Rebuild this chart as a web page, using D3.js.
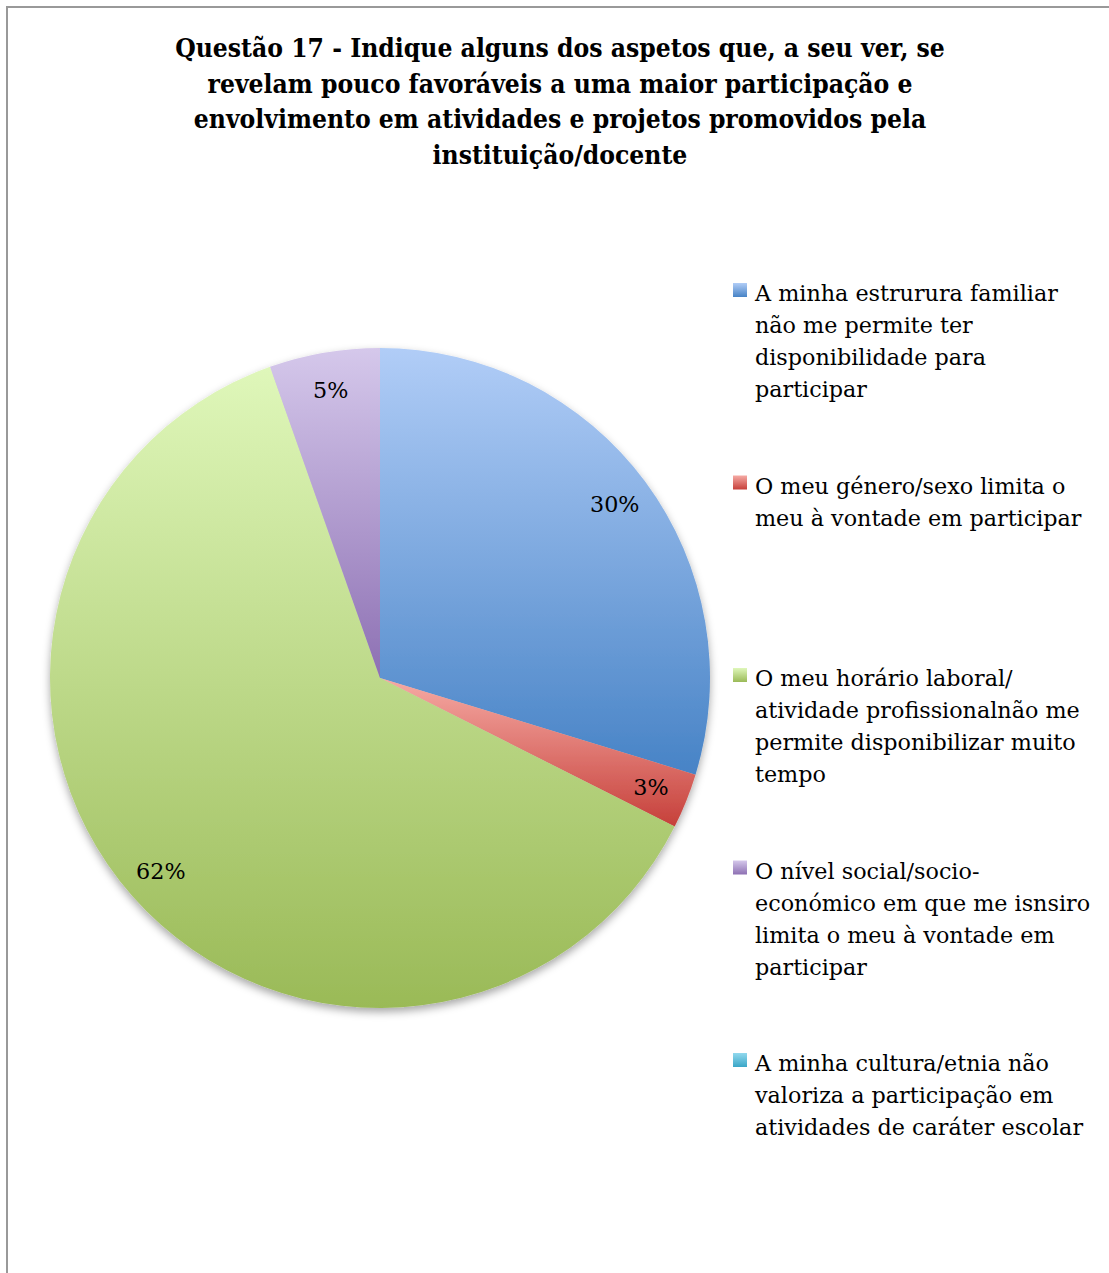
<!DOCTYPE html>
<html>
<head>
<meta charset="utf-8">
<script src="https://cdn.jsdelivr.net/npm/d3@7"></script>
<style>
  body { margin: 0; background: #fff; }
  svg { display: block; }
</style>
</head>
<body>
<div id="chart"></div>
<script>
// Données
const width = 1109;
const height = 1273;

const titleLines = [
    "Questão 17 - Indique alguns dos aspetos que, a seu ver, se",
    "revelam pouco favoráveis a uma maior participação e",
    "envolvimento em atividades e projetos promovidos pela",
    "instituição/docente"
];

const categories = [
    ["A minha estrurura familiar", "não me permite ter", "disponibilidade para", "participar"],
    ["O meu género/sexo limita o", "meu à vontade em participar"],
    ["O meu horário laboral/", "atividade profissionalnão me", "permite disponibilizar muito", "tempo"],
    ["O nível social/socio-", "económico em que me isnsiro", "limita o meu à vontade em", "participar"],
    ["A minha cultura/etnia não", "valoriza a participação em", "atividades de caráter escolar"]
];

const values = [11, 1, 23, 2, 0];

const colorsTop = ["#b1cdf7", "#f6aaa4", "#dff7ba", "#d5c8eb", "#92d9ee"];
const colorsBottom = ["#4783c6", "#c6403a", "#9aba57", "#8d70b3", "#3aa6c7"];

const bodyFont = "'DejaVu Serif', serif";
const titleFont = "'DejaVu Serif Condensed', 'DejaVu Serif', serif";

const svg = d3.select("#chart")
    .append("svg")
    .attr("width", width)
    .attr("height", height);

const defs = svg.append("defs");

// Ajuste la taille de police pour retrouver la largeur du texte d'origine
function fitSize(text, family, weight, target) {
    const t = svg.append("text")
        .attr("font-family", family)
        .attr("font-weight", weight)
        .attr("font-size", "20px")
        .text(text);
    const w = t.node().getComputedTextLength();
    t.remove();
    return 20 * target / w;
}

const bodySize = fitSize("A minha estrurura familiar", bodyFont, "normal", 303);
const titleSize = fitSize(titleLines[0], titleFont, "bold", 770);

// Dégradés verticaux pour chaque tranche
categories.forEach((c, i) => {
    const g = defs.append("linearGradient")
        .attr("id", "grad" + i)
        .attr("x1", "0%").attr("y1", "0%")
        .attr("x2", "0%").attr("y2", "100%");
    g.append("stop").attr("offset", "0%").attr("stop-color", colorsTop[i]);
    g.append("stop").attr("offset", "100%").attr("stop-color", colorsBottom[i]);
});

const shadow = defs.append("filter")
    .attr("id", "shadow")
    .attr("x", "-10%").attr("y", "-10%")
    .attr("width", "120%").attr("height", "125%");
shadow.append("feDropShadow")
    .attr("dx", 0).attr("dy", 4)
    .attr("stdDeviation", 4)
    .attr("flood-color", "#000")
    .attr("flood-opacity", 0.35);

// Cadre
svg.append("path")
    .attr("d", `M7,${height} L7,7 L${width},7`)
    .attr("fill", "none")
    .attr("stroke", "#999")
    .attr("stroke-width", 2);

// Titre
svg.append("text")
    .attr("text-anchor", "middle")
    .attr("font-family", titleFont)
    .attr("font-weight", "bold")
    .attr("font-size", titleSize + "px")
    .attr("fill", "#000")
    .selectAll("tspan")
    .data(titleLines)
    .enter().append("tspan")
    .attr("x", 560)
    .attr("y", (d, i) => 57 + i * 35.5)
    .text(d => d);

// Camembert
const cx = 380, cy = 678, radius = 330;

const pie = d3.pie().sort(null).value(d => d)
    .startAngle(0).endAngle(2 * Math.PI);
const arcs = pie(values);

const arc = d3.arc().innerRadius(0).outerRadius(radius);
const labelArc = d3.arc().innerRadius(292).outerRadius(292);

const pieGroup = svg.append("g")
    .attr("transform", `translate(${cx},${cy})`);

pieGroup.append("g")
    .attr("filter", "url(#shadow)")
    .selectAll("path")
    .data(arcs.filter(d => d.value > 0))
    .enter().append("path")
    .attr("d", arc)
    .attr("fill", d => `url(#grad${d.index})`);

const total = d3.sum(values);

pieGroup.append("g")
    .selectAll("text")
    .data(arcs.filter(d => d.value > 0))
    .enter().append("text")
    .attr("x", d => labelArc.centroid(d)[0])
    .attr("y", d => labelArc.centroid(d)[1])
    .attr("dy", ".35em")
    .attr("text-anchor", "middle")
    .attr("font-family", bodyFont)
    .attr("font-size", bodySize + "px")
    .attr("fill", "#000")
    .text(d => Math.round(d.value / total * 100) + "%");

// Légende
const legend = svg.append("g")
    .attr("transform", "translate(733,0)");

const items = legend.selectAll("g")
    .data(categories)
    .enter().append("g")
    .attr("transform", (d, i) => `translate(0,${283 + i * 192.5})`);

items.append("rect")
    .attr("width", 14)
    .attr("height", 14)
    .attr("fill", (d, i) => `url(#grad${i})`);

items.append("text")
    .attr("font-family", bodyFont)
    .attr("font-size", bodySize + "px")
    .attr("fill", "#000")
    .selectAll("tspan")
    .data(d => d)
    .enter().append("tspan")
    .attr("x", 22)
    .attr("y", (d, i) => 18 + i * 32)
    .text(d => d);
</script>
</body>
</html>
